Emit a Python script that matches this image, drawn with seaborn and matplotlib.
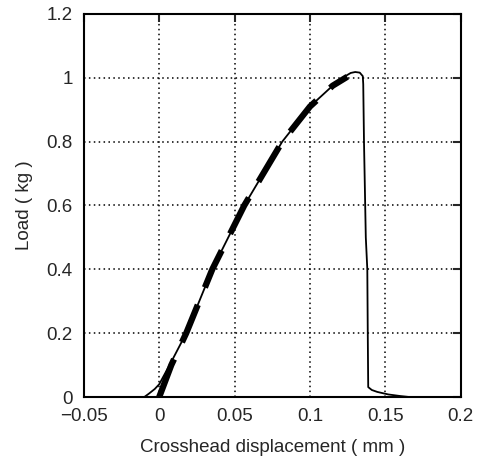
import matplotlib
matplotlib.use("Agg")
import matplotlib.pyplot as plt
import seaborn as sns
import pandas as pd

# measured load curve (solid)
disp = [-0.0099, -0.007, -0.003, 0.0, 0.004, 0.008, 0.0179, 0.0352, 0.0564,
        0.0816, 0.100, 0.1150, 0.1227, 0.1270, 0.1300, 0.1330, 0.1350, 0.1353,
        0.1358, 0.1370, 0.1380, 0.1383, 0.1386, 0.1410, 0.1446, 0.1520, 0.1600, 0.1660]
load = [0.0, 0.010, 0.025, 0.040, 0.075, 0.110, 0.200, 0.400, 0.600,
        0.800, 0.910, 0.975, 1.003, 1.015, 1.018, 1.016, 1.005, 0.980,
        0.800, 0.500, 0.400, 0.200, 0.031, 0.022, 0.016, 0.008, 0.003, 0.0]

# fitted curve (thick dashed)
fit_disp = [0.0, 0.004, 0.008, 0.0179, 0.0352, 0.0564, 0.0816, 0.100, 0.1150, 0.1247]
fit_load = [0.0, 0.050, 0.100, 0.200, 0.400, 0.600, 0.800, 0.910, 0.975, 1.003]

xticks = [-0.05, 0, 0.05, 0.1, 0.15, 0.2]
xticklabels = ["\u22120.05", "0", "0.05", "0.1", "0.15", "0.2"]
yticks = [0, 0.2, 0.4, 0.6, 0.8, 1.0, 1.2]
yticklabels = ["0", "0.2", "0.4", "0.6", "0.8", "1", "1.2"]

sns.set_style("white")
plt.rcParams['font.family'] = ['Liberation Sans', 'DejaVu Sans']
plt.rcParams['font.size'] = 13.5

fig = plt.figure(figsize=(4.79, 4.63), dpi=100)
ax = fig.add_axes([0.175, 0.1425, 0.787, 0.8275])

df = pd.DataFrame({"x": disp, "y": load})
df_fit = pd.DataFrame({"x": fit_disp, "y": fit_load})

sns.lineplot(data=df, x="x", y="y", sort=False, color="black", lw=1.3, ax=ax)
sns.lineplot(data=df_fit, x="x", y="y", sort=False, color="black", lw=4.5, ax=ax,
             dashes=False, linestyle=(0, (6.5, 3)))

ax.set_xlim(-0.05, 0.2)
ax.set_ylim(0, 1.2)
ax.set_xticks(xticks)
ax.set_xticklabels(xticklabels)
ax.set_yticks(yticks)
ax.set_yticklabels(yticklabels)
ax.grid(True, color="black", linestyle=(0, (1, 2.2)), linewidth=1.1)
ax.tick_params(direction="in", length=6, width=1.5, top=True, right=True,
               labelsize=13.5)
ax.tick_params(axis="x", pad=8)
ax.tick_params(axis="y", pad=8)
for s in ax.spines.values():
    s.set_color("black")
    s.set_linewidth(1.5)

ax.set_xlabel("Crosshead displacement ( mm )", fontsize=13.5, labelpad=10)
ax.set_ylabel("Load ( kg )", fontsize=13.5, labelpad=10)

fig.savefig("out.png", dpi=100)
